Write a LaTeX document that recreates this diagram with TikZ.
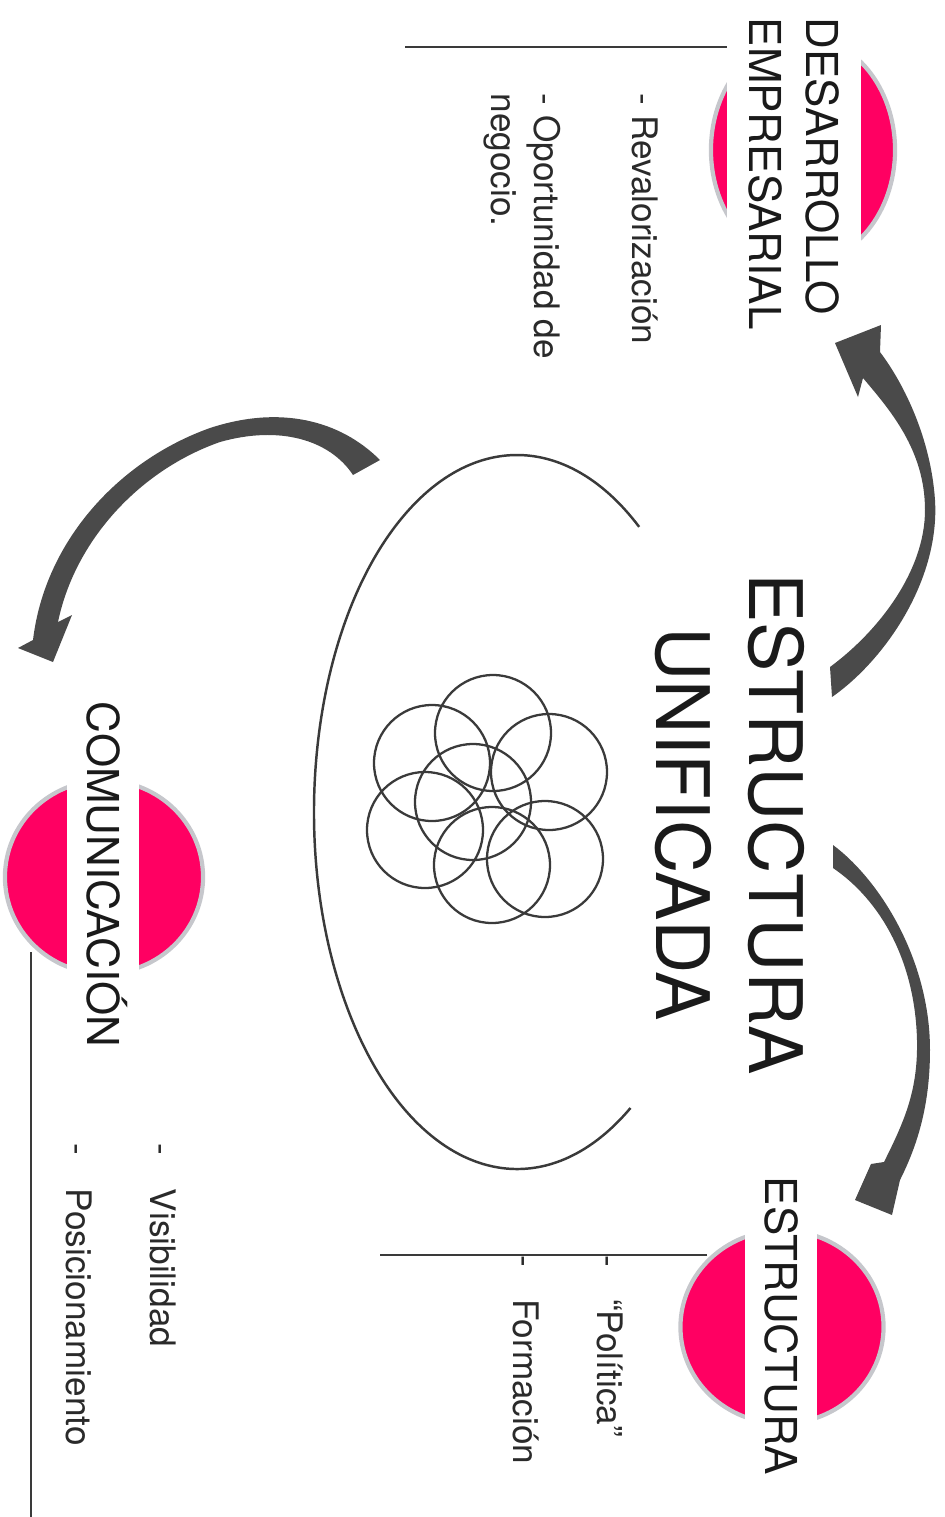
\documentclass[tikz,border=0pt]{standalone}
\usepackage{fontspec}
\setmainfont{TeX Gyre Heros}
\usetikzlibrary{shapes.geometric}
\definecolor{rosa}{HTML}{FF0062}
\definecolor{aro}{HTML}{C6C7CC}
\definecolor{flecha}{HTML}{4A4A4A}
\definecolor{tinta}{HTML}{1A1A1A}
\definecolor{gristx}{HTML}{2A2A2A}
\definecolor{trazo}{HTML}{3A3A3A}
\tikzset{
  disco/.style={ellipse,fill=rosa,draw=aro,line width=1.2pt,inner sep=0pt},
  franja/.style={rotate=-90,anchor=west,fill=white,text=tinta,inner xsep=0pt,
                 font=\fontsize{12.5}{16.2}\selectfont},
  capline/.style={text height=9pt,text depth=0pt,inner ysep=5.6pt},
  punto/.style={rotate=-90,anchor=base west,inner sep=0pt,text=gristx,
                align=left,font=\fontsize{10}{12}\selectfont},
  regla/.style={draw=trazo,line width=0.45pt},
  petalo/.style={draw=trazo,line width=0.65pt},
  bloque/.style={fill=flecha}
}

\begin{document}
\begin{tikzpicture}[x=0.01cm,y=-0.01cm]
  \useasboundingbox (0,0) rectangle (945,1517);

  % outer ring and flower
  \coordinate (nucleo) at (517,812);
  \draw[regla,line width=0.7pt] (nucleo) ++(56:203 and 357)
       arc[start angle=56,end angle=307,x radius=203,y radius=357];
  \foreach \cx/\cy in {473/802,493/733,432/763,549/772,425/830,492/865,545/859}
    \draw[petalo] (\cx,\cy) circle[radius=58];
  \node[rotate=-90,align=center,text=tinta,inner sep=0pt,
        font=\fontsize{21}{26.5}\selectfont] (unificada) at (730,824)
       {ESTRUCTURA\\UNIFICADA};

  % Desarrollo empresarial
  \draw[regla] (737,47) -- (405,47);
  \node[disco,minimum width=1.84cm,minimum height=2.26cm] (desarrollo) at (803,150) {};
  \node[franja,align=left,inner ysep=6.2pt] (desarrolloT) at (794,17)
       {DESARROLLO\\EMPRESARIAL};
  \node[punto] (reval) at (632,93) {- Revalorización};
  \node[punto,anchor=north west] (oport) at (561,93) {- Oportunidad de\\negocio.};

  % Estructura
  \draw[regla] (707,1255) -- (380,1255);
  \node[disco,minimum width=2.03cm,minimum height=1.93cm] (estructura) at (782,1327) {};
  \node[franja,capline] (estructuraT) at (781,1176) {ESTRUCTURA};
  \node[punto] (polit) at (597,1255) {-\hspace{0.9em}“Política”};
  \node[punto] (form) at (513,1255) {-\hspace{0.9em}Formación};

  % Comunicacion
  \draw[regla] (31,952) -- (31,1517);
  \node[disco,minimum width=1.98cm,minimum height=1.93cm] (comunicacion) at (104,877) {};
  \node[franja,capline] (comunicacionT) at (103,701) {COMUNICACIÓN};
  \node[punto] (visib) at (150,1143) {-\hspace{0.95em}Visibilidad};
  \node[punto] (posic) at (66,1143) {-\hspace{0.95em}Posicionamiento};

  % curved block arrows
  \fill[bloque] (832,697) .. controls (885,660) and (940,580) .. (935,500)
       .. controls (931,440) and (905,385) .. (880,352) -- (881,325) -- (835,343)
       -- (858,397) -- (863,378) .. controls (890,410) and (925,450) .. (925,510)
       .. controls (925,570) and (880,630) .. (830,667) -- cycle;
  \fill[bloque] (833,845) .. controls (880,880) and (930,960) .. (930,1050)
       .. controls (930,1110) and (915,1150) .. (900,1180) -- (892,1215) -- (855,1200)
       -- (871,1164) -- (884,1162) .. controls (905,1120) and (918,1090) .. (917,1040)
       .. controls (915,960) and (880,900) .. (833,868) -- cycle;
  \fill[bloque] (380,460) .. controls (340,420) and (280,405) .. (210,428)
       .. controls (120,460) and (45,540) .. (33,640) -- (18,648) -- (53,662)
       -- (72,615) -- (58,622) .. controls (75,540) and (140,470) .. (220,442)
       .. controls (280,425) and (330,440) .. (353,475) -- cycle;
\end{tikzpicture}
\end{document}
